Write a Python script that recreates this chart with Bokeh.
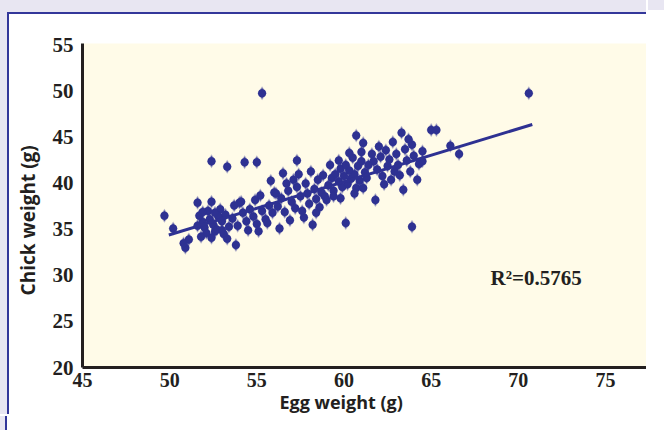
from bokeh.plotting import figure
from bokeh.models import Range1d, FixedTicker, Label, ColumnDataSource
from bokeh.embed import file_html
from bokeh.resources import INLINE

# ---- data ----
egg_weight = [
    49.7, 50.2, 50.9, 51.1, 50.8, 55.3, 70.6, 52.4, 53.3, 54.3, 55.0, 57.3,
    51.6, 52.4, 52.9, 51.7, 51.9, 52.0, 52.1, 52.3, 52.5, 52.6, 52.8, 53.0,
    53.1, 52.2, 51.8, 52.7, 53.2, 53.4, 52.4, 51.9, 53.0, 52.6, 51.6, 53.3,
    54.0, 53.8, 53.6, 53.9, 54.2, 54.4, 54.6, 54.8, 55.0, 55.2, 55.3, 55.5,
    55.7, 55.9, 56.0, 54.1, 54.5, 55.1, 53.7, 55.6, 54.9, 56.3, 55.8, 56.5,
    56.2, 56.4, 56.6, 56.8, 56.9, 57.0, 57.2, 57.3, 57.5, 57.6, 57.8, 57.9,
    58.0, 58.1, 58.2, 58.3, 58.4, 58.5, 58.6, 58.7, 58.8, 58.9, 59.0, 57.1,
    57.7, 56.7, 58.4, 57.4, 56.1,
    59.2, 59.7, 59.8, 60.1, 59.1, 59.3, 59.4, 59.5, 59.7, 59.8, 59.9, 60.0,
    60.1, 60.2, 60.3, 60.4, 60.5, 60.6, 60.7, 60.8, 60.9, 61.0, 61.1, 61.1,
    60.7, 61.2, 61.3, 61.4, 60.3, 59.4, 60.6, 61.0,
    61.7, 61.8, 61.9, 62.1, 62.2, 62.4, 62.5, 62.6, 62.8, 62.9, 63.0, 63.1,
    63.2, 63.3, 63.4, 63.5, 63.6, 63.8, 63.9, 63.9, 64.0, 64.2, 64.3, 64.5,
    64.5, 62.3, 62.7, 61.6, 62.0, 63.7,
    65.0, 65.3, 66.1, 66.6,
]
chick_weight = [
    36.5, 35.1, 33.0, 33.9, 33.5, 49.8, 49.8, 42.4, 41.8, 42.3, 42.3, 42.5,
    37.9, 38.0, 37.2, 36.5, 35.8, 35.2, 34.6, 36.1, 35.5, 34.8, 36.4, 35.9,
    34.5, 37.0, 34.2, 35.0, 36.6, 35.3, 34.1, 36.9, 34.9, 36.8, 35.4, 34.0,
    37.9, 33.3, 36.2, 35.4, 36.8, 35.9, 37.2, 36.4, 35.6, 38.7, 37.0, 36.1,
    37.6, 36.8, 39.0, 38.0, 34.9, 34.8, 37.6, 35.7, 38.2, 35.1, 40.3, 41.1,
    37.5, 38.4, 36.9, 39.2, 36.0, 38.0, 37.3, 39.6, 38.6, 37.0, 40.0, 38.9,
    37.8, 41.3, 35.5, 39.4, 38.3, 40.4, 37.4, 39.0, 40.9, 38.6, 38.2, 40.4,
    36.3, 40.0, 36.8, 41.0, 38.9,
    42.0, 42.5, 38.4, 35.7, 39.8, 40.6, 39.2, 41.0, 40.2, 41.6, 39.6, 40.8,
    42.0, 39.9, 41.4, 40.5, 42.8, 41.0, 39.5, 41.9, 40.3, 42.4, 39.5, 44.4,
    45.2, 41.2, 40.6, 42.0, 43.3, 38.6, 38.9, 43.4,
    42.4, 38.2, 41.5, 42.9, 40.8, 43.6, 41.9, 42.6, 44.5, 41.3, 43.2, 42.0,
    40.9, 45.5, 39.3, 43.7, 42.5, 41.3, 44.2, 35.3, 43.0, 40.4, 42.1, 42.4,
    43.5, 39.9, 40.4, 43.2, 44.0, 44.8,
    45.8, 45.8, 44.1, 43.2,
]
trend_x = [49.95, 70.8]
trend_y = [34.4, 46.4]
r_squared_text = "R\u00b2=0.5765"
x_title = "Egg weight (g)"
y_title = "Chick weight (g)"
x_ticks = [45, 50, 55, 60, 65, 70, 75]
y_ticks = [20, 25, 30, 35, 40, 45, 50, 55]

NAVY = "#2E3192"
INK = "#231F20"
LAV = "#E8E6F2"
EDGE = "#33379A"
NBSP = "\u00a0"

src = ColumnDataSource(data=dict(x=egg_weight, y=chick_weight))

p = figure(
    width=639, height=402,
    x_range=Range1d(45, 77.35), y_range=Range1d(20, 55.2),
    output_backend="svg", toolbar_location=None,
    min_border_left=73, min_border_right=2, min_border_top=29, min_border_bottom=47,
    background_fill_color="#FFFBE8", border_fill_color="white",
    outline_line_color=None,
)
# outer panel: lavender surround with a blue edge (drawn by CSS on the plot element)
p.styles = {
    "margin-left": "7px",
    "margin-top": "12px",
    "border-top": f"2px solid {EDGE}",
    "border-left": f"2px solid {EDGE}",
    "box-shadow": ", ".join([
        f"0 -12px 0 0 {LAV}",
        f"-7px 0 0 0 {LAV}",
        f"-7px -12px 0 0 {LAV}",
        f"445px -208px 0 -196px {LAV}",
        f"440px -201px 0 -201px {EDGE}",
        f"-447px 210px 0 -194px {LAV}",
        f"-445px 210px 0 -194px {EDGE}",
    ]),
}
p.grid.grid_line_color = None

# blurred diamond markers: soft halo + core
p.scatter("x", "y", source=src, marker="diamond", size=14, fill_color=NAVY,
          line_color=None, fill_alpha=0.35)
p.scatter("x", "y", source=src, marker="circle", size=8, fill_color=NAVY,
          line_color=None, fill_alpha=1.0)
p.scatter("x", "y", source=src, marker="diamond", size=11, fill_color=NAVY,
          line_color=None, fill_alpha=0.85)

p.line(trend_x, trend_y, line_color=NAVY, line_width=3)

p.add_layout(Label(x=68.4, y=29.75, text=r_squared_text, text_baseline="middle",
                   text_font="Liberation Serif", text_font_style="bold",
                   text_font_size="21px", text_color=INK))

for ax in (p.xaxis[0], p.yaxis[0]):
    ax.axis_line_color = INK
    ax.axis_line_width = 3
    ax.major_tick_line_color = None
    ax.minor_tick_line_color = None
    ax.major_tick_out = 0
    ax.major_tick_in = 0
    ax.major_label_text_font = "Liberation Serif"
    ax.major_label_text_font_style = "bold"
    ax.major_label_text_font_size = "21px"
    ax.major_label_text_color = INK
    ax.axis_label_text_font = "Open Sans"
    ax.axis_label_text_font_style = "bold"
    ax.axis_label_text_color = INK

p.xaxis[0].ticker = FixedTicker(ticks=x_ticks)
p.yaxis[0].ticker = FixedTicker(ticks=y_ticks)
# trailing no-break spaces shift the centred titles the way the original sits
p.xaxis[0].axis_label = x_title + NBSP * 10
p.yaxis[0].axis_label = y_title + NBSP * 6
p.xaxis[0].major_label_text_font_size = "20px"
p.xaxis[0].axis_label_text_font_size = "18px"
p.yaxis[0].axis_label_text_font_size = "19px"
p.xaxis[0].major_label_standoff = 5
p.xaxis[0].axis_label_standoff = 0
p.yaxis[0].major_label_standoff = 9
p.yaxis[0].axis_label_standoff = 9

open("out.html", "w").write(file_html(p, INLINE))
